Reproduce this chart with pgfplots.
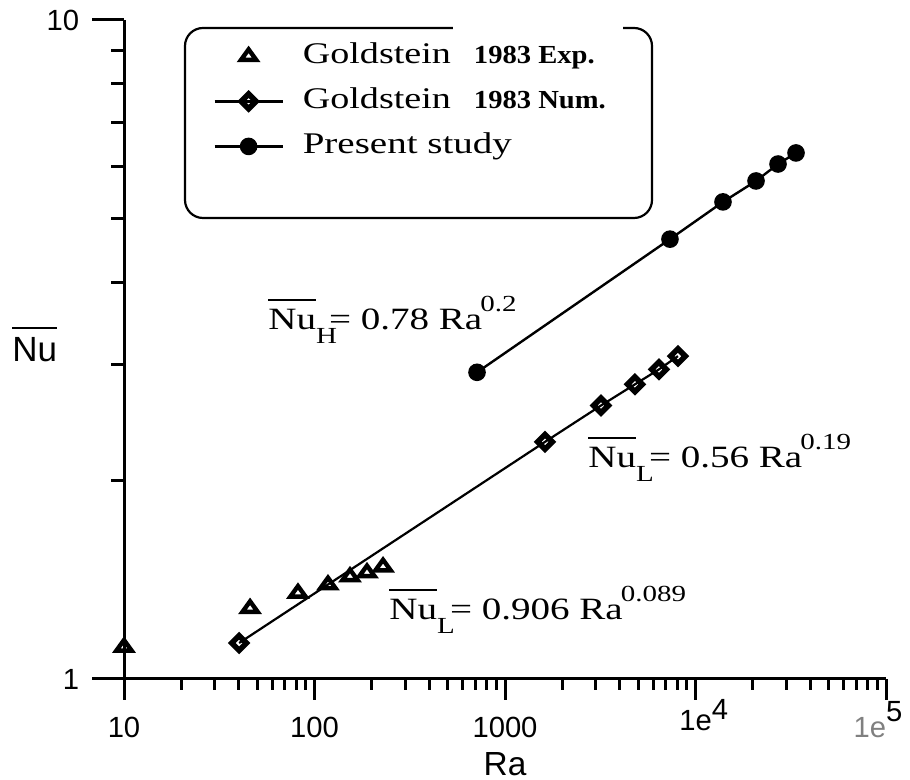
\documentclass[border=0pt]{standalone}
\usepackage{fontspec}
\setmainfont{Liberation Serif}
\setsansfont{Liberation Sans}
\usepackage{graphicx}
\usepackage{pgfplots}
\pgfplotsset{compat=1.18}
\usepackage{pgfplotstable}

\pgfplotstableread{
x y
10 1.118
45.9 1.28
81.9 1.35
117.7 1.39
153.6 1.43
188.6 1.45
229 1.48
}\expdata
\pgfplotstableread{
x y
40.2 1.134
1622 2.29
3190 2.60
4810 2.80
6430 2.95
8090 3.09
}\numdata
\pgfplotstableread{
x y
713 2.92
7345 4.65
13940 5.296
20780 5.698
27110 6.046
33700 6.284
}\presdata

\newcommand\olnu{\begingroup\setbox0\hbox{Nu}\rlap{\raisebox{0.95em}{\rule{\wd0}{0.7pt}}}\box0\endgroup}
\newcommand\eqn[3]{\scalebox{1.26}[1]{\olnu\rlap{\raisebox{-0.42em}{\fontsize{11.5}{12}\selectfont #1}}\kern0.33em=\kern0.25em#2 Ra\kern-0.05em\raisebox{0.6em}{\fontsize{11.5}{12}\selectfont #3}}}

\begin{document}
\begin{tikzpicture}[x=1pt,y=1pt]
\begin{axis}[
  at={(62pt,50.5pt)}, anchor=south west,
  scale only axis, width=381pt, height=329.5pt,
  xmode=log, ymode=log,
  xmin=10, xmax=100000, ymin=1, ymax=10,
  axis lines=left,
  axis line style={-, line width=1.5pt},
  tick align=outside,
  tick style={line width=1.5pt, black},
  xtick style={/pgfplots/major tick length=10.5pt,/pgfplots/minor tick length=5.5pt},
  ytick style={/pgfplots/major tick length=16pt,/pgfplots/minor tick length=6.5pt},
  xtick={10,100,1000,10000,100000},
  xticklabels={10,100,1000,{\raisebox{0.24em}{1e\rlap{\raisebox{0.38em}{4}}}},{\llap{\textcolor{gray}{1e}}\rlap{\raisebox{0.55em}{5}}}},
  minor xtick={20,30,40,50,60,70,80,90,200,300,400,500,600,700,800,900,2000,3000,4000,5000,6000,7000,8000,9000,20000,30000,40000,50000,60000,70000,80000,90000},
  ytick={1,10}, yticklabels={1,10},
  minor ytick={2,3,4,5,6,7,8,9},
  ticklabel style={font=\sffamily\fontsize{14.6}{16}\selectfont},
  xticklabel style={anchor=base, yshift=-25pt},
  yticklabel style={anchor=east, inner xsep=0pt, xshift=-18pt},
  clip=false,
  legend style={at={(0.1168,0.9681)}, anchor=north west, draw=none, fill=none,
    inner sep=0pt, row sep=7.5pt, column sep=9.5pt,
    nodes={inner xsep=0pt, inner ysep=0pt, text height=11pt, text depth=4pt},
    font=\fontsize{15}{17}\selectfont},
  legend cell align=left,
  legend image code/.code={\draw[mark repeat=2,mark phase=2,#1] plot coordinates {(0pt,0pt) (17pt,0pt) (34pt,0pt)};},
]
\addplot[only marks, mark=triangle, mark size=4.4pt, mark options={line width=2.2pt, yscale=0.8, fill=white}]
  table[x=x,y=y] {\expdata};
\addlegendentry{\scalebox{1.27}[1]{Goldstein}\hspace{11.5pt}\scalebox{1.1}[1]{\bfseries\fontsize{13}{14}\selectfont 1983 Exp.}}
\addplot[black, line width=1.1pt, mark=square, mark size=2.6pt, mark options={rotate=45, line width=2.8pt, fill=white}]
  table[x=x,y=y] {\numdata};
\addlegendentry{\scalebox{1.27}[1]{Goldstein}\hspace{11.5pt}\scalebox{1.1}[1]{\bfseries\fontsize{13}{14}\selectfont 1983 Num.}}
\addplot[black, line width=1.2pt, mark=*, mark size=3.8pt]
  table[x=x,y=y] {\presdata};
\addlegendentry{\scalebox{1.3}[1]{Present study}}
\end{axis}
% legend frame
\draw[line width=1.1pt, rounded corners=9pt] (92.5pt,281pt) rectangle (326pt,376pt);
\draw[white, line width=3pt] (226.5pt,376pt) -- (311.5pt,376pt);
% axis labels
\node[anchor=base west, inner sep=0pt, font=\sffamily\fontsize{17.5}{19}\selectfont] at (6pt,209pt) {\olnu};
\node[anchor=base, inner sep=0pt, font=\sffamily\fontsize{16.7}{18}\selectfont] at (252.5pt,2pt) {Ra};
% equations
\node[anchor=base west, inner sep=0pt, font=\fontsize{15.5}{18}\selectfont] at (134pt,225pt) {\eqn{H}{0.78}{0.2}};
\node[anchor=base west, inner sep=0pt, font=\fontsize{15.5}{18}\selectfont] at (294pt,156pt) {\eqn{L}{0.56}{0.19}};
\node[anchor=base west, inner sep=0pt, font=\fontsize{15.5}{18}\selectfont] at (194.5pt,80pt) {\eqn{L}{0.906}{0.089}};
\pgfresetboundingbox
\path[use as bounding box] (0,0) rectangle (455pt,390pt);
\end{tikzpicture}
\end{document}
